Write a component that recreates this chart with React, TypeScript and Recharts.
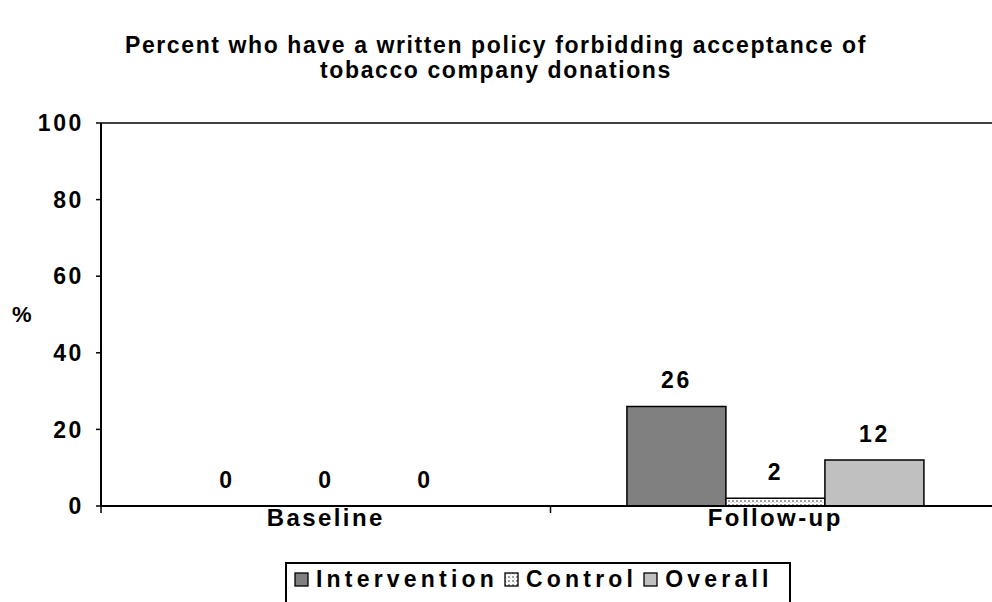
import React from 'react';
import { BarChart, Bar, XAxis, YAxis, LabelList, ReferenceLine } from 'recharts';

// Survey periods and the percentage in each group with a written policy
const periods = ['Baseline', 'Follow-up'];
const intervention = [0, 26];
const control = [0, 2];
const overall = [0, 12];
const yTicks = [0, 20, 40, 60, 80, 100];
const seriesNames = ['Intervention', 'Control', 'Overall'];

const data = periods.map((name, i) => ({
  name,
  Intervention: intervention[i],
  Control: control[i],
  Overall: overall[i],
}));

const FONT = '"Liberation Sans", Arial, sans-serif';

const swatches: Record<string, string> = {
  Intervention: '#808080',
  Control: 'url(#controlDots)',
  Overall: '#c0c0c0',
};

const boldText = {
  fill: '#000',
  fontSize: 22,
  fontWeight: 700,
  fontFamily: FONT,
};

// Category label, with tick marks on the category boundaries rather than the centre
function CategoryTick(props: any) {
  const { x, y, payload, index, visibleTicksCount } = props;
  const half = payload && typeof payload.offset === 'number' ? payload.offset : 0;
  const axisY = y - 4;
  const isLast = index === (visibleTicksCount ?? periods.length) - 1;
  return (
    <g>
      <line x1={x - half} x2={x - half} y1={axisY} y2={axisY + 7} stroke="#000" strokeWidth={1.5} />
      {isLast && (
        <line x1={x + half} x2={x + half} y1={axisY} y2={axisY + 7} stroke="#000" strokeWidth={1.5} />
      )}
      <text x={x} y={y} dy="0.68em" textAnchor="middle" {...boldText} fontSize={24} letterSpacing={2.4}>
        {payload.value}
      </text>
    </g>
  );
}

function LegendBox() {
  return (
    <div
      style={{
        position: 'absolute',
        left: 285,
        top: 562,
        width: 506,
        height: 60,
        boxSizing: 'border-box',
        display: 'flex',
        alignItems: 'flex-start',
        border: '2px solid #000',
        padding: '2px 0 0 7px',
        background: '#fff',
        fontFamily: FONT,
        fontWeight: 700,
        fontSize: 23,
        lineHeight: '27px',
        letterSpacing: 4.2,
        color: '#000',
        whiteSpace: 'nowrap',
      }}
    >
      {seriesNames.map((n, i) => (
        <span
          key={n}
          style={{ display: 'inline-flex', alignItems: 'center', marginRight: i < 2 ? 6 : 0 }}
        >
          <svg width={15} height={15} style={{ marginRight: 7 }}>
            <rect x={1} y={1} width={13} height={13} fill={swatches[n]} stroke="#000" strokeWidth={1.3} />
          </svg>
          {n}
        </span>
      ))}
    </div>
  );
}

export default function App() {
  return (
    <div
      style={{
        position: 'absolute',
        left: 0,
        top: 0,
        width: 992,
        height: 602,
        overflow: 'hidden',
        background: '#fff',
      }}
    >
      <svg width={0} height={0} style={{ position: 'absolute' }}>
        <defs>
          <pattern id="controlDots" width={4} height={4} patternUnits="userSpaceOnUse">
            <rect width={4} height={4} fill="#ffffff" />
            <rect x={0} y={0} width={2} height={2} fill="#a0a0a0" />
            <rect x={2} y={2} width={1} height={1} fill="#d0d0d0" />
          </pattern>
        </defs>
      </svg>
      <div
        style={{
          position: 'absolute',
          left: 0,
          top: 33,
          width: 992,
          textAlign: 'center',
          fontFamily: FONT,
          fontWeight: 700,
          fontSize: 23,
          lineHeight: '25px',
          letterSpacing: 1.6,
          color: '#000',
        }}
      >
        Percent who have a written policy forbidding acceptance of
        <br />
        tobacco company donations
      </div>
      <div style={{ position: 'absolute', left: 0, top: 0 }}>
        <BarChart
          width={1010}
          height={602}
          data={data}
          margin={{ top: 123, right: 10, bottom: 56, left: 8 }}
          barCategoryGap="17%"
          barGap={0}
        >
          <XAxis
            dataKey="name"
            axisLine={{ stroke: '#000', strokeWidth: 2 }}
            tickLine={false}
            tickSize={0}
            tickMargin={4}
            height={40}
            tick={<CategoryTick />}
            interval={0}
          />
          <YAxis
            domain={[0, 100]}
            ticks={yTicks}
            width={93}
            tickSize={5}
            tickMargin={12}
            axisLine={{ stroke: '#000', strokeWidth: 2 }}
            tickLine={{ stroke: '#000', strokeWidth: 1.5 }}
            tick={{ ...boldText, fontSize: 23, letterSpacing: 2.6 }}
            label={{
              value: '%',
              angle: 0,
              position: 'insideLeft',
              offset: 4,
              ...boldText,
            }}
          />
          <ReferenceLine y={100} stroke="#000" strokeWidth={1.5} />
          {seriesNames.map((n) => (
            <Bar
              key={n}
              dataKey={n}
              fill={swatches[n]}
              stroke="#000"
              strokeWidth={1.5}
              minPointSize={0.01}
              isAnimationActive={false}
            >
              <LabelList
                dataKey={n}
                position="top"
                offset={18}
                {...boldText}
                fontSize={23}
                letterSpacing={2.6}
              />
            </Bar>
          ))}
        </BarChart>
      </div>
      <LegendBox />
    </div>
  );
}
